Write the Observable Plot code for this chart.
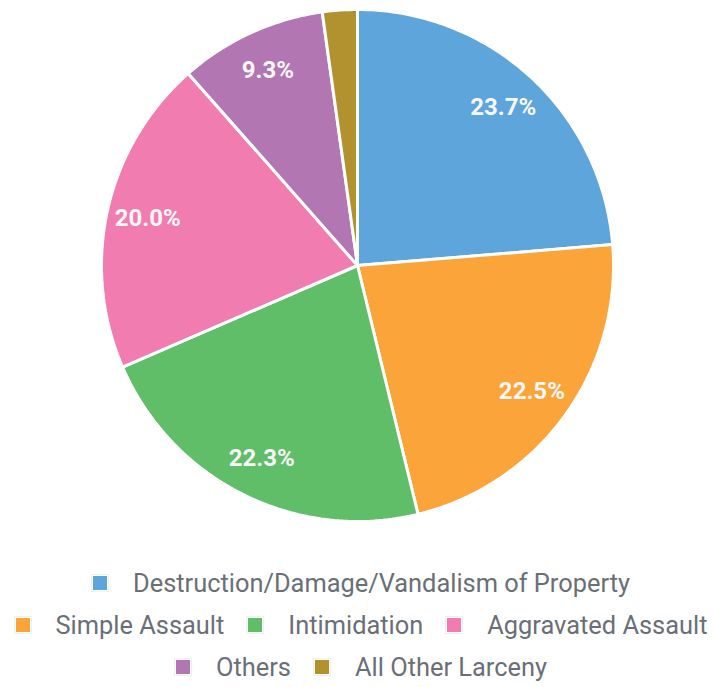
<!DOCTYPE html>
<html>
<head>
<meta charset="utf-8">
<script src="https://cdn.jsdelivr.net/npm/d3@7"></script>
<script src="https://cdn.jsdelivr.net/npm/@observablehq/plot@0.6"></script>
<style>
  html, body { margin: 0; padding: 0; background: #fff; }
  body { width: 713px; font-family: Roboto, "Noto Sans", sans-serif; color: #6a6f77; }
  #chart svg { display: block; }
  #legend { position: relative; left: 5px; width: 713px; }
  .lg-swatches { justify-content: center; height: 42px; min-height: 42px !important; margin: 0 !important; align-items: center; flex-wrap: nowrap !important; }
  .lg-swatch { margin-right: 24px !important; align-items: center; }
  .lg-swatch:last-child { margin-right: 0 !important; }
  .lg-swatch svg { margin-right: 26px !important; outline: 1px solid rgba(0,0,0,0.06); outline-offset: 1px; }
</style>
</head>
<body>
<div id="chart"></div>
<div id="legend"></div>
<script>
// Offense categories and their share of incidents (%)
const categories = [
  "Destruction/Damage/Vandalism of Property",
  "Simple Assault",
  "Intimidation",
  "Aggravated Assault",
  "Others",
  "All Other Larceny"
];
const shares = [23.7, 22.5, 22.3, 20.0, 9.3, 2.2];
const colors = ["#5DA5DA", "#FAA43A", "#60BD68", "#F17CB0", "#B276B2", "#B2912F"];
const legendRows = [[0], [1, 2, 3], [4, 5]];

const rows = categories.map((name, i) => ({name, value: shares[i]}));

// Slice angles, clockwise from 12 o'clock
const arcs = d3.pie().sort(null).value(d => d.value).startAngle(0).endAngle(2 * Math.PI)(rows);

// Each slice as a closed polygon: centre -> arc -> centre
const slicePoints = arcs.flatMap(a => {
  const steps = Math.max(2, Math.ceil((a.endAngle - a.startAngle) / (Math.PI / 180)));
  const pts = [{name: a.data.name, x: 0, y: 0}];
  for (let k = 0; k <= steps; ++k) {
    const t = a.startAngle + (a.endAngle - a.startAngle) * k / steps;
    pts.push({name: a.data.name, x: Math.sin(t), y: Math.cos(t)});
  }
  pts.push({name: a.data.name, x: 0, y: 0});
  return pts;
});

// Percentage labels placed inside each slice
const labelRadius = 0.84;
const labels = arcs.filter(a => a.data.value >= 5).map(a => {
  const m = (a.startAngle + a.endAngle) / 2;
  return {x: labelRadius * Math.sin(m), y: labelRadius * Math.cos(m), text: a.data.value.toFixed(1) + "%"};
});

const chart = Plot.plot({
  width: 713,
  height: 562,
  marginLeft: 101,
  marginRight: 100,
  marginTop: 9,
  marginBottom: 41,
  x: {domain: [-1, 1], axis: null},
  y: {domain: [-1, 1], axis: null},
  color: {domain: categories, range: colors},
  style: {fontFamily: "Roboto, sans-serif", background: "#fff"},
  marks: [
    Plot.line(slicePoints, {
      x: "x", y: "y", z: "name", fill: "name",
      stroke: "white", strokeWidth: 3, strokeLinejoin: "miter"
    }),
    Plot.text(labels, {
      x: "x", y: "y", text: "text",
      fill: "#f7f7f7", fontSize: 24, fontWeight: "bold"
    })
  ]
});
document.getElementById("chart").append(chart);

// Legend laid out in three centred rows
const legendHost = document.getElementById("legend");
for (const row of legendRows) {
  legendHost.append(Plot.legend({
    legend: "swatches",
    className: "lg",
    swatchSize: 14,
    color: {type: "ordinal", domain: row.map(i => categories[i]), range: row.map(i => colors[i])},
    style: {fontSize: "25.4px", fontFamily: "Roboto, sans-serif", color: "#6a6f77"}
  }));
}
</script>
</body>
</html>
